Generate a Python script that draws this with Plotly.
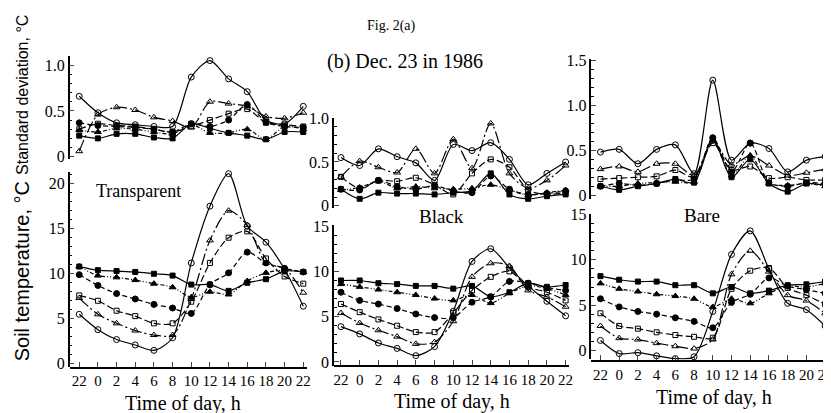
import plotly.graph_objects as go

HOURS = [0, 2, 4, 6, 8, 10, 12, 14, 16, 18, 20, 22, 24]
HOUR_LABELS = ["22", "0", "2", "4", "6", "8", "10", "12", "14", "16", "18", "20", "22"]

# Transparent - standard deviation
TR_SD_OC = [0.66, 0.48, 0.37, 0.35, 0.33, 0.33, 0.87, 1.05, 0.85, 0.71, 0.40, 0.36, 0.55]
TR_SD_OT = [0.06, 0.46, 0.54, 0.51, 0.43, 0.39, 0.32, 0.60, 0.58, 0.55, 0.44, 0.42, 0.48]
TR_SD_OS = [0.30, 0.36, 0.34, 0.33, 0.30, 0.27, 0.33, 0.40, 0.47, 0.52, 0.37, 0.35, 0.33]
TR_SD_FC = [0.37, 0.34, 0.33, 0.32, 0.30, 0.27, 0.36, 0.33, 0.40, 0.57, 0.38, 0.33, 0.32]
TR_SD_FT = [0.29, 0.27, 0.31, 0.30, 0.27, 0.25, 0.35, 0.26, 0.26, 0.30, 0.19, 0.33, 0.30]
TR_SD_FS = [0.23, 0.20, 0.25, 0.25, 0.21, 0.20, 0.36, 0.31, 0.26, 0.23, 0.19, 0.27, 0.27]
# Transparent - soil temperature
TR_T_OC = [5.5, 3.8, 2.7, 2.1, 1.5, 2.9, 11.2, 17.5, 21.1, 15.3, 13.5, 10.5, 6.4]
TR_T_OT = [7.3, 5.5, 4.5, 3.7, 3.2, 3.2, 7.2, 13.7, 17.0, 15.4, 11.2, 10.6, 7.9]
TR_T_OS = [7.6, 7.0, 5.9, 5.3, 4.5, 4.5, 6.9, 11.2, 14.0, 14.7, 11.7, 9.7, 8.9]
TR_T_FC = [9.9, 8.7, 7.8, 7.2, 6.6, 6.2, 5.6, 8.8, 10.1, 12.4, 11.2, 10.6, 10.2]
TR_T_FT = [10.8, 9.8, 9.6, 9.3, 8.9, 8.5, 7.4, 8.0, 7.7, 9.2, 10.1, 10.4, 10.2]
TR_T_FS = [10.8, 10.4, 10.3, 10.2, 10.0, 9.8, 8.8, 8.8, 8.1, 9.0, 9.4, 10.3, 10.2]

# Black - standard deviation
BL_SD_OC = [0.55, 0.46, 0.65, 0.56, 0.49, 0.29, 0.70, 0.63, 0.72, 0.53, 0.24, 0.37, 0.50]
BL_SD_OT = [0.33, 0.51, 0.44, 0.38, 0.65, 0.37, 0.76, 0.43, 0.94, 0.37, 0.20, 0.29, 0.46]
BL_SD_OS = [0.33, 0.20, 0.29, 0.28, 0.32, 0.24, 0.13, 0.37, 0.53, 0.44, 0.18, 0.13, 0.15]
BL_SD_FC = [0.19, 0.18, 0.29, 0.22, 0.19, 0.23, 0.17, 0.15, 0.34, 0.19, 0.13, 0.14, 0.17]
BL_SD_FT = [0.18, 0.21, 0.28, 0.20, 0.22, 0.20, 0.19, 0.20, 0.24, 0.18, 0.12, 0.15, 0.18]
BL_SD_FS = [0.19, 0.08, 0.15, 0.14, 0.14, 0.13, 0.15, 0.17, 0.37, 0.13, 0.08, 0.11, 0.13]
# Black - soil temperature
BL_T_OC = [3.9, 3.1, 2.1, 1.5, 0.7, 1.7, 5.6, 11.1, 12.5, 10.4, 8.4, 6.7, 5.1]
BL_T_OT = [5.4, 4.3, 3.5, 2.8, 2.0, 2.2, 4.5, 9.4, 10.9, 10.6, 7.9, 7.2, 6.1]
BL_T_OS = [6.4, 5.5, 4.7, 4.0, 3.3, 3.3, 5.4, 7.9, 9.4, 10.0, 8.3, 7.7, 6.8]
BL_T_FC = [7.7, 6.8, 6.4, 5.9, 5.3, 4.9, 4.9, 6.6, 7.2, 8.9, 8.7, 8.2, 7.9]
BL_T_FT = [8.6, 8.3, 8.0, 7.7, 7.4, 7.0, 6.8, 7.4, 6.5, 7.6, 8.4, 8.1, 7.4]
BL_T_FS = [9.0, 9.0, 8.7, 8.6, 8.4, 8.4, 8.1, 8.4, 7.2, 7.7, 8.7, 8.3, 8.5]

# Bare - standard deviation
BA_SD_OC = [0.48, 0.51, 0.35, 0.51, 0.56, 0.24, 1.28, 0.39, 0.58, 0.52, 0.26, 0.39, 0.43]
BA_SD_OT = [0.29, 0.32, 0.26, 0.35, 0.35, 0.22, 0.60, 0.34, 0.44, 0.33, 0.22, 0.25, 0.29]
BA_SD_OS = [0.18, 0.19, 0.20, 0.21, 0.28, 0.20, 0.58, 0.28, 0.32, 0.19, 0.20, 0.17, 0.17]
BA_SD_FC = [0.10, 0.13, 0.11, 0.13, 0.17, 0.18, 0.64, 0.26, 0.58, 0.14, 0.10, 0.14, 0.13]
BA_SD_FT = [0.10, 0.10, 0.13, 0.14, 0.15, 0.15, 0.61, 0.22, 0.44, 0.13, 0.11, 0.13, 0.10]
BA_SD_FS = [0.10, 0.06, 0.10, 0.13, 0.18, 0.14, 0.63, 0.20, 0.40, 0.13, 0.04, 0.13, 0.11]
# Bare - soil temperature
BA_T_OC = [1.1, -0.35, -0.25, -0.6, -0.9, -0.7, 4.3, 10.6, 13.2, 9.0, 5.2, 4.5, 2.7]
BA_T_OT = [2.7, 1.35, 1.2, 0.8, 0.46, 0.2, 1.2, 8.4, 11.0, 8.7, 6.1, 5.5, 4.1]
BA_T_OS = [4.1, 2.7, 2.4, 2.0, 1.7, 1.5, 1.4, 6.8, 8.8, 9.1, 6.9, 6.1, 5.1]
BA_T_FC = [5.7, 4.8, 4.3, 4.0, 3.6, 3.2, 2.5, 5.3, 6.2, 8.0, 7.1, 6.7, 6.3]
BA_T_FT = [7.4, 6.8, 6.5, 6.2, 6.0, 5.7, 4.8, 5.7, 5.2, 6.3, 7.1, 7.0, 7.4]
BA_T_FS = [8.2, 7.8, 7.6, 7.6, 7.2, 7.2, 6.3, 7.0, 6.3, 6.6, 7.2, 7.3, 7.6]

STYLES = [
    ("circle-open", 6, "solid"),
    ("triangle-up-open", 6, "12px,3px,2px,3px"),
    ("square-open", 5, "7px,3px"),
    ("circle", 6, "5px,3px"),
    ("triangle-up", 6, "4px,2px,1px,2px,1px,2px"),
    ("square", 5, "solid"),
]

PANELS = [
    ("x", "y", [TR_SD_OC, TR_SD_OT, TR_SD_OS, TR_SD_FC, TR_SD_FT, TR_SD_FS]),
    ("x2", "y2", [TR_T_OC, TR_T_OT, TR_T_OS, TR_T_FC, TR_T_FT, TR_T_FS]),
    ("x3", "y3", [BL_SD_OC, BL_SD_OT, BL_SD_OS, BL_SD_FC, BL_SD_FT, BL_SD_FS]),
    ("x4", "y4", [BL_T_OC, BL_T_OT, BL_T_OS, BL_T_FC, BL_T_FT, BL_T_FS]),
    ("x5", "y5", [BA_SD_OC, BA_SD_OT, BA_SD_OS, BA_SD_FC, BA_SD_FT, BA_SD_FS]),
    ("x6", "y6", [BA_T_OC, BA_T_OT, BA_T_OS, BA_T_FC, BA_T_FT, BA_T_FS]),
]

fig = go.Figure()
for xa, ya, series in PANELS:
    for vals, (sym, size, dash) in zip(series, STYLES):
        fig.add_trace(go.Scatter(
            x=HOURS, y=vals, xaxis=xa, yaxis=ya, mode="lines+markers",
            line=dict(color="black", width=1.2, dash=dash, shape="spline", smoothing=0.8),
            marker=dict(symbol=sym, size=size, color="black",
                        line=dict(color="black", width=1)),
            showlegend=False, hoverinfo="skip", cliponaxis=False,
        ))

SERIF = "Liberation Serif"
SANS = "Liberation Sans"
W, H = 831, 413


def px_y(p):
    return 1 - p / H


def xax(domain, rng, bottom=False, pos=None):
    d = dict(domain=domain, range=rng, showgrid=False, zeroline=False)
    if bottom:
        d.update(anchor="free", position=pos, showline=True, linecolor="black",
                 linewidth=1.5, ticks="inside", ticklen=5, tickwidth=1.2,
                 tickvals=HOURS, ticktext=HOUR_LABELS,
                 tickfont=dict(family=SERIF, size=15, color="black"))
    else:
        d.update(visible=False)
    return d


def yax(domain, rng, anchor, tickvals, ticktext, minor):
    return dict(domain=domain, range=rng, anchor=anchor, showgrid=False, zeroline=False,
                showline=True, linecolor="black", linewidth=1.5, ticks="inside",
                ticklen=5, tickwidth=1.2, tickvals=tickvals, ticktext=ticktext,
                tickfont=dict(family=SERIF, size=16, color="black"),
                minor=dict(dtick=minor, ticks="inside", ticklen=3, tickwidth=1,
                           tickcolor="black", showgrid=False))


LEFT = [61 / W, 300 / W]
MID = [327 / W, 563 / W]
RIGHT = [586 / W, 825 / W]

fig.update_layout(
    width=W, height=H, margin=dict(l=0, r=0, t=0, b=0),
    paper_bgcolor="white", plot_bgcolor="rgba(0,0,0,0)",
    xaxis=xax(LEFT, [-1.03, 24.42]),
    yaxis=yax([px_y(147.9), px_y(41.5)], [-0.02, 1.1], "x", [0, 0.5, 1.0], ["0", "0.5", "1.0"], 0.1),
    xaxis2=xax(LEFT, [-1.03, 24.42], True, px_y(365)),
    yaxis2=yax([px_y(363.8), px_y(161.8)], [-0.3, 21.3], "x2", [0, 5, 10, 15, 20], ["0", "5", "10", "15", "20"], 1),
    xaxis3=xax(MID, [-0.74, 24.32]),
    yaxis3=yax([px_y(198.8), px_y(106)], [-0.02, 1.0], "x3", [0, 0.5, 1.0], ["0", "0.5", "1.0"], 0.1),
    xaxis4=xax(MID, [-0.74, 24.32], True, px_y(363)),
    yaxis4=yax([px_y(362.8), px_y(217.1)], [-0.4, 15.1], "x4", [0, 5, 10, 15], ["0", "5", "10", "15"], 1),
    xaxis5=xax(RIGHT, [-0.96, 24.42]),
    yaxis5=yax([px_y(189.7), px_y(44.2)], [-0.04, 1.52], "x5", [0, 0.5, 1.0, 1.5], ["0", "0.5", "1.0", "1.5"], 0.1),
    xaxis6=xax(RIGHT, [-0.96, 24.42], True, px_y(358)),
    yaxis6=yax([px_y(356.4), px_y(205.1)], [-1.0, 15.1], "x6", [0, 5, 10, 15], ["0", "5", "10", "15"], 1),
)


def ann(text, x, y, size, family=SERIF, angle=0, yanchor="middle"):
    fig.add_annotation(text=text, x=x / W, y=px_y(y), xref="paper", yref="paper",
                       showarrow=False, textangle=angle, xanchor="center", yanchor=yanchor,
                       font=dict(family=family, size=size, color="black"))


ann("Fig. 2(a)", 385, 0, 14, yanchor="top")
ann("(b) Dec. 23 in 1986", 398, 47, 20)
ann("Transparent", 130, 182, 18)
ann("Black", 435, 208, 19)
ann("Bare", 697, 207, 19)
ann("Time of day, h", 175, 402, 20)
ann("Time of day, h", 446, 400, 20)
ann("Time of day, h", 709, 396, 20)
ann("Standard deviation, °C", 13, 82, 16, SANS, -90)
ann("Soil temperature, °C", 13, 265, 20, SANS, -90)

fig.write_html("out.html")
